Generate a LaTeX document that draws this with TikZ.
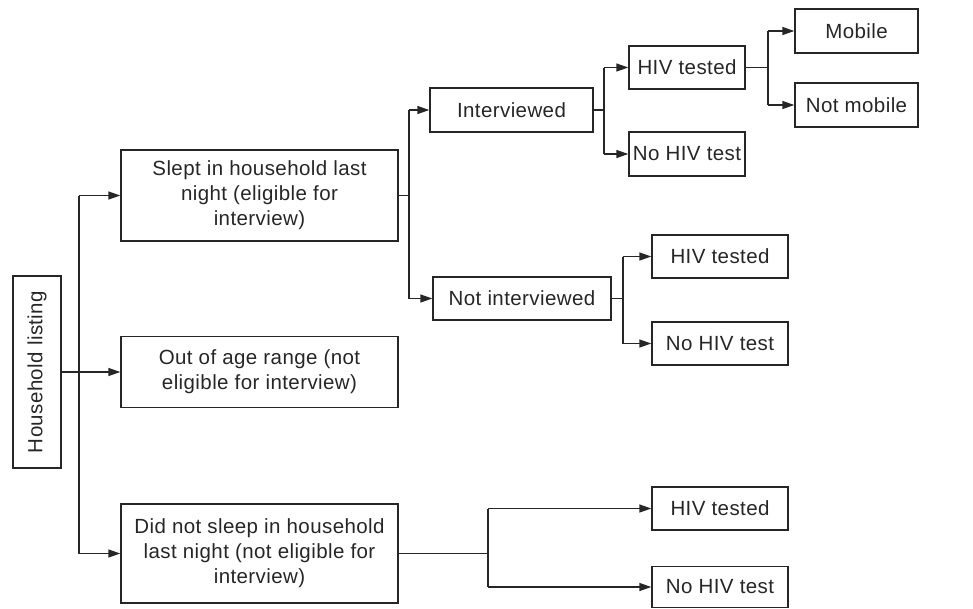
\documentclass[tikz,border=0pt]{standalone}
\usepackage{fontspec}
\setmainfont{Liberation Sans}[LetterSpace=2]
\usetikzlibrary{arrows.meta}
\begin{document}
\begin{tikzpicture}[x=1pt,y=1pt,
  box/.style={draw=black!85, line width=1.4pt, inner sep=0pt, align=center,
    font=\fontsize{20.5}{25}\selectfont, text=black!85},
  conn/.style={draw=black!85, line width=1.4pt},
  arr/.style={conn, -{Triangle[length=12pt,width=8pt]}}]
\useasboundingbox (0,0) rectangle (973,-608);
% nodes
\node[box, rotate=90, minimum width=192pt, minimum height=48pt] (hl) at (37,-372) {Household listing};
\node[box, minimum width=277pt, minimum height=91pt] (slept) at (259.5,-195.5) {Slept in household last\\night (eligible for\\interview)};
\node[box, minimum width=277pt, minimum height=71pt] (age) at (259.5,-372) {Out of age range (not\\eligible for interview)};
\node[box, minimum width=277pt, minimum height=99pt] (dns) at (259.5,-553.5) {Did not sleep in household\\last night (not eligible for\\interview)};
\node[box, minimum width=163pt, minimum height=44pt] (intv) at (511.5,-110) {Interviewed};
\node[box, minimum width=178pt, minimum height=43pt] (notint) at (522,-298.5) {Not interviewed};
\node[box, minimum width=116pt, minimum height=43pt] (hivA) at (687,-67.5) {HIV tested};
\node[box, minimum width=116pt, minimum height=44pt] (nohivA) at (687,-154) {No HIV test};
\node[box, minimum width=123pt, minimum height=44pt] (mob) at (856.5,-31) {Mobile};
\node[box, minimum width=123pt, minimum height=44pt] (notmob) at (856.5,-105) {Not mobile};
\node[box, minimum width=136pt, minimum height=43pt] (hivB) at (720,-256.5) {HIV tested};
\node[box, minimum width=136pt, minimum height=43pt] (nohivB) at (720,-343.5) {No HIV test};
\node[box, minimum width=136pt, minimum height=43pt] (hivC) at (720,-508.5) {HIV tested};
\node[box, minimum width=136pt, minimum height=41pt] (nohivC) at (720,-587) {No HIV test};
% branch points
\coordinate (bH) at (79,0);
\coordinate (bS) at (409,0);
\coordinate (bI) at (604,0);
\coordinate (bT) at (768,0);
\coordinate (bN) at (623,0);
\coordinate (bD) at (488,0);
% connectors
\draw[arr] (hl.south) -- (hl.south -| age.west);
\draw[conn] (bH |- slept.west) -- (bH |- dns.west);
\draw[arr] (bH |- slept.west) -- (slept.west);
\draw[arr] (bH |- dns.west) -- (dns.west);

\draw[conn] (slept.east) -- (bS |- slept.east);
\draw[conn] (bS |- intv.west) -- (bS |- notint.west);
\draw[arr] (bS |- intv.west) -- (intv.west);
\draw[arr] (bS |- notint.west) -- (notint.west);

\draw[conn] (intv.east) -- (bI |- intv.east);
\draw[conn] (bI |- hivA.west) -- (bI |- nohivA.west);
\draw[arr] (bI |- hivA.west) -- (hivA.west);
\draw[arr] (bI |- nohivA.west) -- (nohivA.west);

\draw[conn] (hivA.east) -- (bT |- hivA.east);
\draw[conn] (bT |- mob.west) -- (bT |- notmob.west);
\draw[arr] (bT |- mob.west) -- (mob.west);
\draw[arr] (bT |- notmob.west) -- (notmob.west);

\draw[conn] (notint.east) -- (bN |- notint.east);
\draw[conn] (bN |- hivB.west) -- (bN |- nohivB.west);
\draw[arr] (bN |- hivB.west) -- (hivB.west);
\draw[arr] (bN |- nohivB.west) -- (nohivB.west);

\draw[conn] (dns.east) -- (bD |- dns.east);
\draw[conn] (bD |- hivC.west) -- (bD |- nohivC.west);
\draw[arr] (bD |- hivC.west) -- (hivC.west);
\draw[arr] (bD |- nohivC.west) -- (nohivC.west);
\end{tikzpicture}
\end{document}
